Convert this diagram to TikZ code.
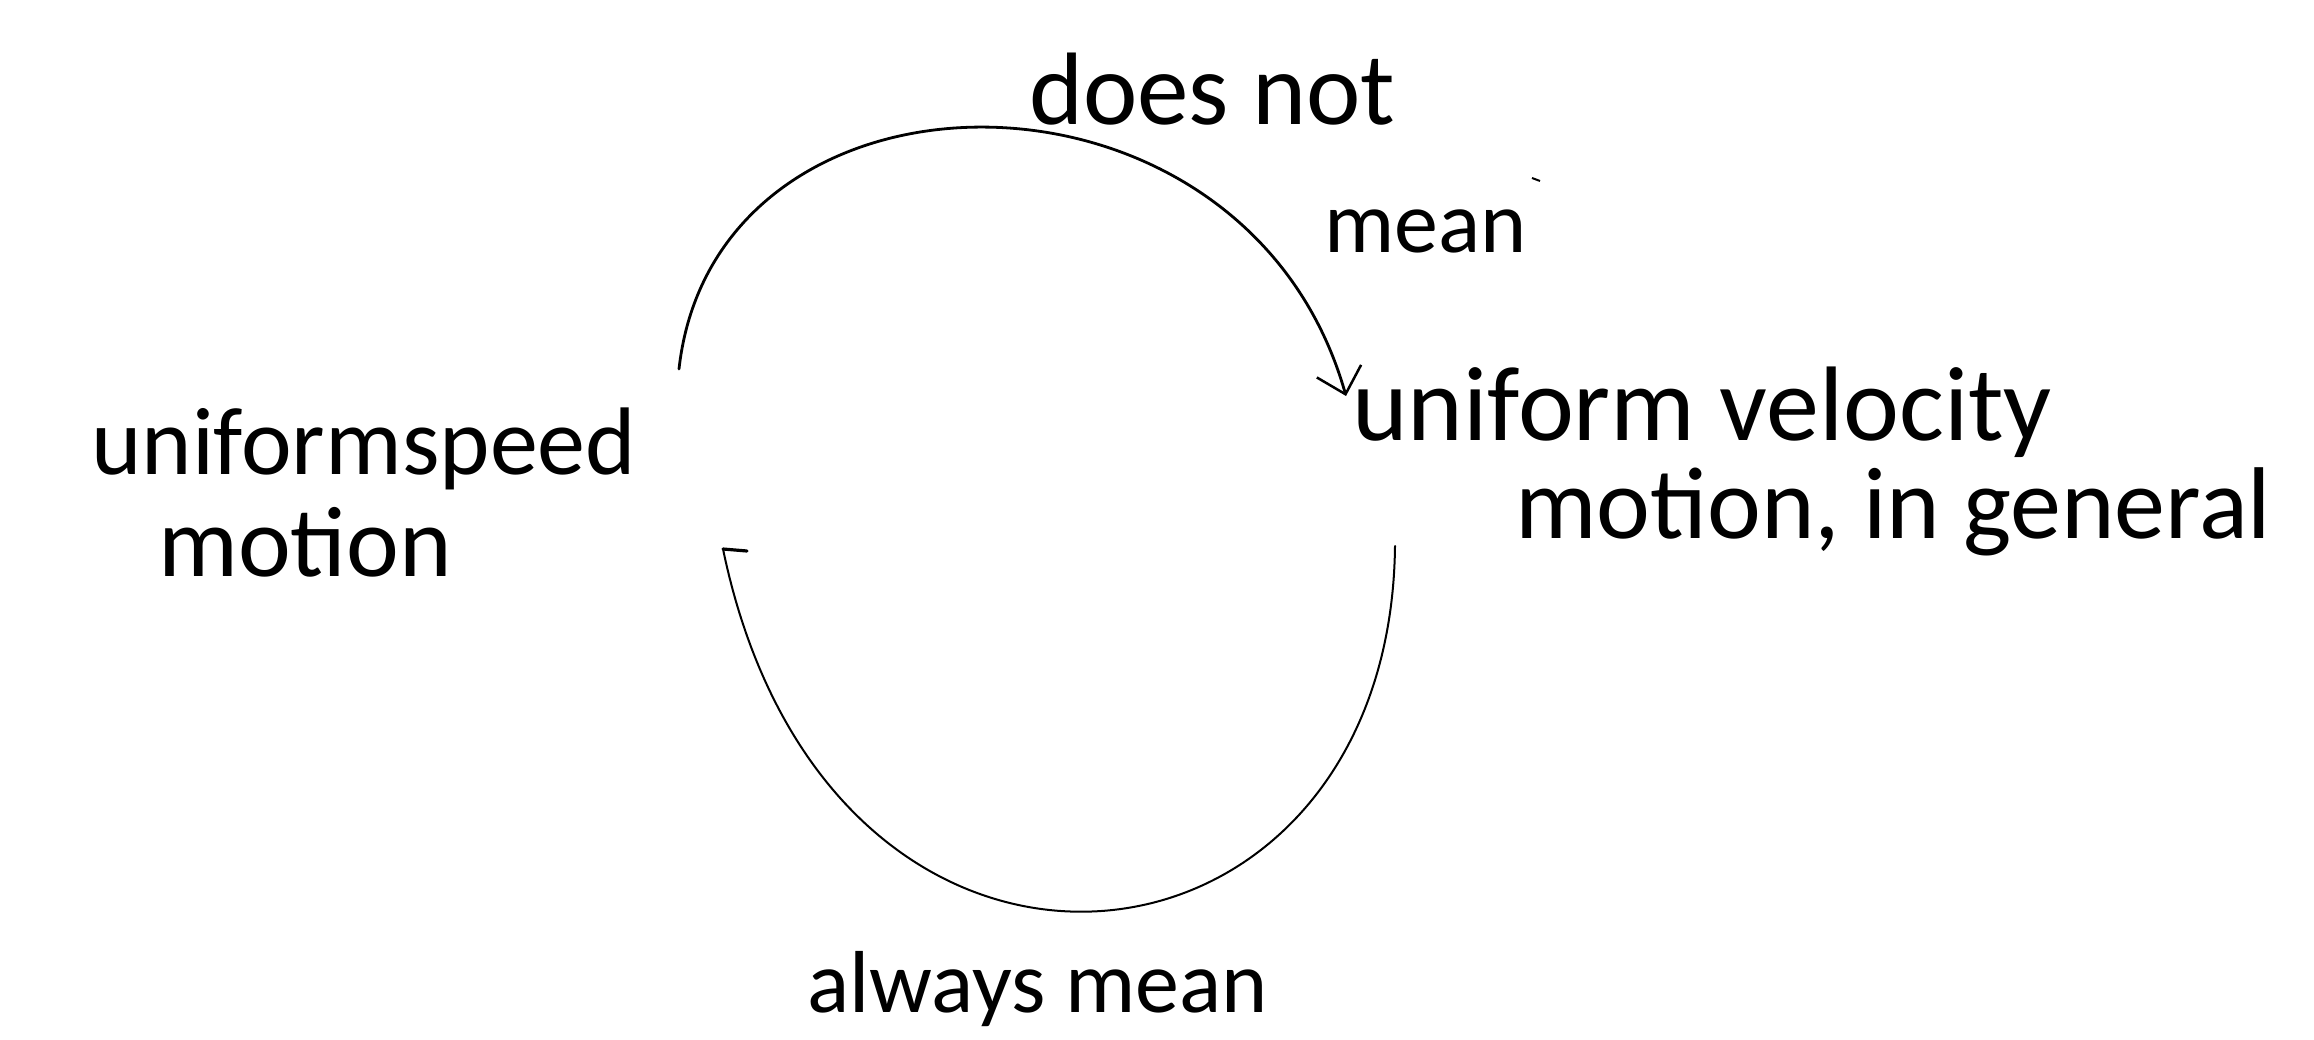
\documentclass[tikz,border=0pt]{standalone}
\usepackage{fontspec}
\newfontfamily\handfont{Carlito}
\usetikzlibrary{arrows.meta}
\tikzset{
  hand/.style={font=\handfont\fontsize{#1}{#1}\selectfont, inner sep=0pt, anchor=base west, text=black},
  arcline/.style={draw=black, line width=#1, line cap=round},
  vtip/.style={-{Straight Barb[length=24pt,width=46pt,line width=2.5pt]}}
}
\begin{document}
\begin{tikzpicture}[x=1pt,y=-1pt]
\useasboundingbox[fill=white] (0,0) rectangle (2314,1040);
% texts
\node[hand=96pt] (us1) at (91,474) {uniformspeed};
\node[hand=100pt] (us2) at (158,576) {motion};
\node[hand=106pt] (uv1) at (1352,440) {uniform velocity};
\node[hand=102pt] (uv2) at (1515,538) {motion, in general};
\node[hand=103pt] (dn1) at (1029,125) {does not};
\node[hand=88pt] (dn2) at (1324,253) {mean};
\node[hand=88pt] (am) at (807,1012) {always mean};
% connector end points
\coordinate (ts) at (679,369);
\coordinate (te) at (1346,396);
\coordinate (bs) at (1395,546);
\coordinate (be) at (723,549);
% top arc: does not mean
\draw[arcline=2.8pt, vtip] (ts) .. controls (715,45) and (1245,40) .. (te);
% bottom arc: always mean
\draw[arcline=2pt] (bs) .. controls (1390,1000) and (830,1065) .. (be);
\draw[arcline=3.2pt] (be) -- ++(24,2);
% stray mark
\draw[line width=2pt] (1532,178) -- (1540,181);
\end{tikzpicture}
\end{document}
